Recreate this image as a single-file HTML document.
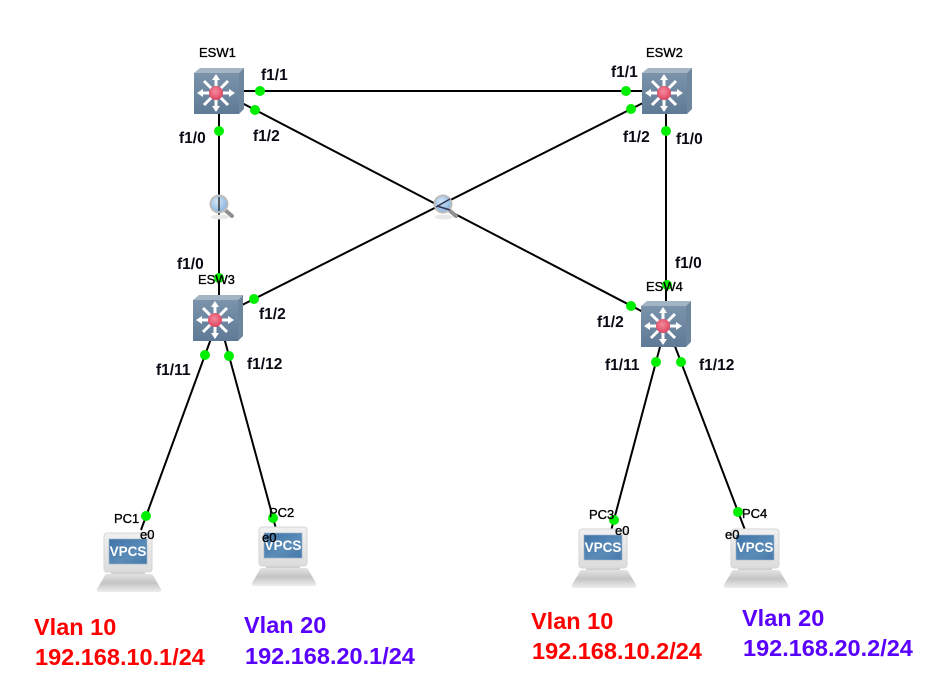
<!DOCTYPE html>
<html><head><meta charset="utf-8"><style>
html,body{margin:0;padding:0;background:#fff;width:930px;height:688px;overflow:hidden}
svg{display:block}
text{font-family:"Liberation Sans",sans-serif}
.p{font-size:15.500px;font-weight:bold;fill:#0a0a14}
.n{font-size:13px;fill:#000;stroke:#000;stroke-width:.35}
.v{font-size:23.500px;font-weight:bold}
</style></head><body>
<svg width="930" height="688" viewBox="0 0 930 688" xmlns="http://www.w3.org/2000/svg">
<defs>
<linearGradient id="fr" x1="0" y1="0" x2="0" y2="1"><stop offset="0" stop-color="#7b93ab"/><stop offset="1" stop-color="#5f7a96"/></linearGradient>
<linearGradient id="scr" x1="0" y1="0" x2="1" y2="1"><stop offset="0" stop-color="#3f74a8"/><stop offset=".6" stop-color="#5b8cb8"/><stop offset="1" stop-color="#4679aa"/></linearGradient>
<linearGradient id="base" x1="0" y1="0" x2="0" y2="1"><stop offset="0" stop-color="#e2e2e2"/><stop offset=".5" stop-color="#c4c4c4"/><stop offset="1" stop-color="#ededed"/></linearGradient>
<linearGradient id="mon" x1="0" y1="0" x2="0" y2="1"><stop offset="0" stop-color="#f0f0f0"/><stop offset="1" stop-color="#dcdcdc"/></linearGradient>
<radialGradient id="red" cx=".45" cy=".4" r=".6"><stop offset="0" stop-color="#f58a9c"/><stop offset="1" stop-color="#dc4460"/></radialGradient>
<radialGradient id="gl" cx=".4" cy=".35" r=".7"><stop offset="0" stop-color="#d4e6f7"/><stop offset="1" stop-color="#7fb0de"/></radialGradient>
<g id="sw">
<polygon points="0,5 6,0 50,0 45,5" fill="#a3b4c5"/>
<polygon points="45,5 50,0 50,41 45,46" fill="#6d869e"/>
<rect x="0" y="5" width="45" height="41" fill="url(#fr)"/>
<g stroke="#fff" stroke-width="3" fill="none">
<line x1="22" y1="25" x2="22" y2="10"/><line x1="22" y1="25" x2="22" y2="40"/>
<line x1="22" y1="25" x2="7" y2="25"/><line x1="22" y1="25" x2="37" y2="25"/>
<line x1="22" y1="25" x2="10" y2="13"/><line x1="22" y1="25" x2="34" y2="13"/>
<line x1="22" y1="25" x2="10" y2="37"/><line x1="22" y1="25" x2="34" y2="37"/>
</g>
<g fill="#fff">
<polygon points="22,6 18,12 26,12"/><polygon points="22,44 18,38 26,38"/>
<polygon points="3,25 9,21 9,29"/><polygon points="41,25 35,21 35,29"/>
</g>
<circle cx="22" cy="25" r="7" fill="url(#red)"/>
</g>
<g id="pc">
<rect x="7" y="38" width="34" height="5" fill="#cfcfcf"/>
<rect x="0" y="0" width="48" height="39" rx="3" fill="url(#mon)" stroke="#d6d6d6"/>
<rect x="5" y="6" width="38" height="25" fill="url(#scr)" stroke="#9fb4c6" stroke-width=".6"/>
<text x="24" y="23" text-anchor="middle" font-size="13.500" font-weight="bold" fill="#fff">VPCS</text>
<path d="M3,41 H46 Q49,41 50,44 L57,56 Q58,59 54,59 H-4 Q-8,59 -7,56 L0,44 Q1,41 3,41 Z" fill="url(#base)"/>
</g>
<g id="mag">
<ellipse cx="1" cy="13" rx="9" ry="2.500" fill="#e8e8e8"/>
<line x1="6" y1="6" x2="13" y2="12" stroke="#8f8f8f" stroke-width="4" stroke-linecap="round"/>
<circle cx="0" cy="0" r="8.500" fill="url(#gl)" stroke="#bdbdbd" stroke-width="2"/>
</g>
</defs>

<g stroke="#000" stroke-width="2" fill="none">
<line x1="238" y1="91" x2="642" y2="91"/>
<line x1="240" y1="102" x2="645" y2="313"/>
<line x1="645" y1="102" x2="240" y2="306"/>
<line x1="219" y1="112" x2="219" y2="296"/>
<line x1="666" y1="112" x2="666" y2="302"/>
<line x1="210.500" y1="340" x2="141" y2="530"/>
<line x1="224.700" y1="340" x2="275.500" y2="527"/>
<line x1="660.500" y1="345" x2="611" y2="531"/>
<line x1="674.500" y1="345" x2="745" y2="530"/>
</g>

<use href="#sw" x="194" y="68"/>
<use href="#sw" x="642" y="68"/>
<use href="#sw" x="193" y="295"/>
<use href="#sw" x="641" y="301"/>

<use href="#pc" x="104" y="533"/>
<use href="#pc" x="259" y="527"/>
<use href="#pc" x="579" y="529"/>
<use href="#pc" x="731" y="529"/>

<use href="#mag" x="219" y="204"/>
<use href="#mag" x="443" y="204"/>
<line x1="219" y1="197" x2="219" y2="211" stroke="#333" stroke-width="1.500"/>
<path d="M436 207 L450 199 M437 206 L450 210" stroke="#335" stroke-width="1.500" fill="none"/>

<g fill="#00ee00">
<circle cx="260" cy="91" r="5"/><circle cx="255" cy="110" r="5"/><circle cx="219" cy="131" r="5"/>
<circle cx="626" cy="91" r="5"/><circle cx="631" cy="109" r="5"/><circle cx="666" cy="131" r="5"/>
<circle cx="219" cy="278" r="5"/><circle cx="254" cy="299" r="5"/><circle cx="205" cy="355" r="5"/><circle cx="229" cy="356" r="5"/>
<circle cx="667" cy="285" r="5"/><circle cx="631" cy="306" r="5"/><circle cx="656" cy="362" r="5"/><circle cx="681" cy="362" r="5"/>
<circle cx="146" cy="516" r="5"/><circle cx="273" cy="518" r="5"/><circle cx="614" cy="520" r="5"/><circle cx="738" cy="512" r="5"/>
</g>

<text class="n" x="199" y="57">ESW1</text>
<text class="n" x="646" y="57">ESW2</text>
<text class="n" x="198" y="284">ESW3</text>
<text class="n" x="646" y="291">ESW4</text>
<text class="n" x="114" y="523">PC1</text>
<text class="n" x="269" y="517">PC2</text>
<text class="n" x="589" y="519">PC3</text>
<text class="n" x="742" y="518">PC4</text>
<text class="n" x="140" y="539">e0</text>
<text class="n" x="262" y="542">e0</text>
<text class="n" x="615" y="535">e0</text>
<text class="n" x="725" y="539">e0</text>

<text class="p" x="261" y="80">f1/1</text>
<text class="p" x="253" y="141">f1/2</text>
<text class="p" x="179" y="143">f1/0</text>
<text class="p" x="611" y="77">f1/1</text>
<text class="p" x="623" y="142">f1/2</text>
<text class="p" x="676" y="144">f1/0</text>
<text class="p" x="177" y="269">f1/0</text>
<text class="p" x="259" y="319">f1/2</text>
<text class="p" x="156" y="375">f1/11</text>
<text class="p" x="247" y="369">f1/12</text>
<text class="p" x="675" y="268">f1/0</text>
<text class="p" x="597" y="327">f1/2</text>
<text class="p" x="605" y="370">f1/11</text>
<text class="p" x="699" y="370">f1/12</text>

<text class="v" x="34" y="635" fill="#ff0000">Vlan 10</text>
<text class="v" x="35" y="665" fill="#ff0000">192.168.10.1/24</text>
<text class="v" x="244" y="633" fill="#5a00ff">Vlan 20</text>
<text class="v" x="245" y="664" fill="#5a00ff">192.168.20.1/24</text>
<text class="v" x="531" y="629" fill="#ff0000">Vlan 10</text>
<text class="v" x="532" y="659" fill="#ff0000">192.168.10.2/24</text>
<text class="v" x="742" y="626" fill="#5a00ff">Vlan 20</text>
<text class="v" x="743" y="656" fill="#5a00ff">192.168.20.2/24</text>
</svg>
</body></html>
